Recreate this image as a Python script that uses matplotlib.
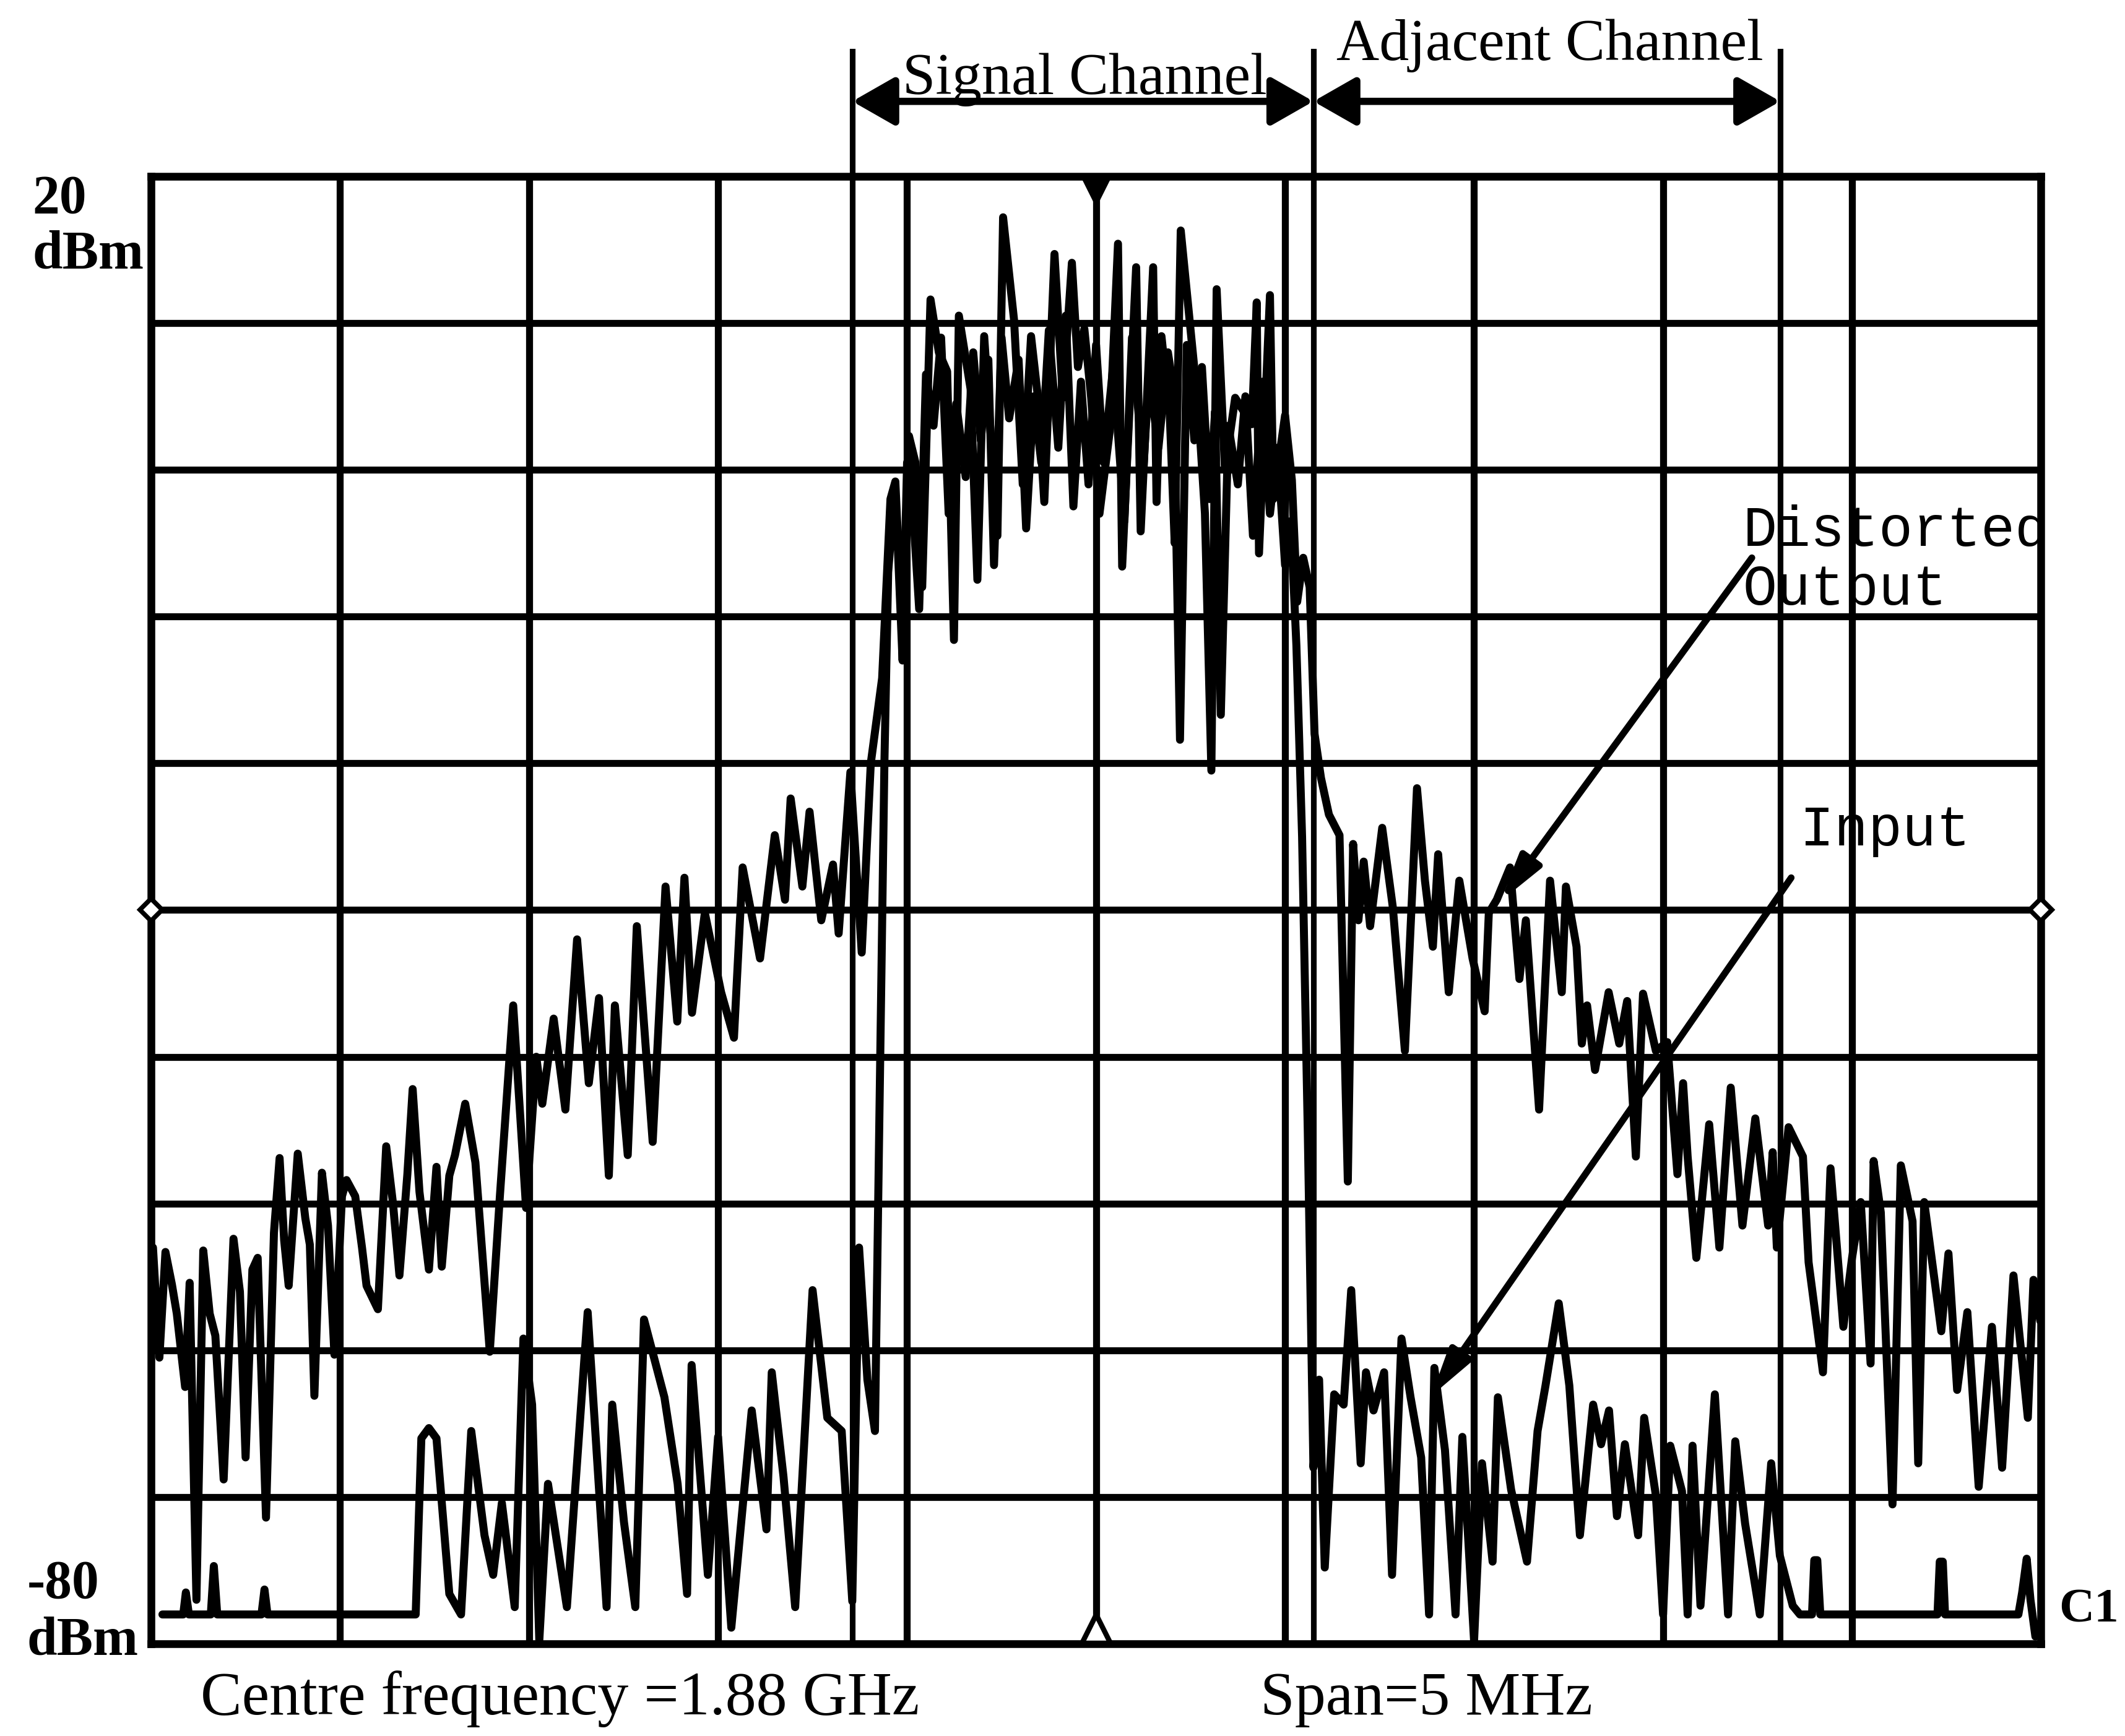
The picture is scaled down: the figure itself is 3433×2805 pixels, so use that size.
import numpy as np
import matplotlib
matplotlib.use("Agg")
import matplotlib.pyplot as plt

# ---------------- data (frequency offset from 1.88 GHz in MHz, level in dBm) -------------
out_freq = [-2.495, -2.478, -2.462, -2.445, -2.432, -2.410, -2.398, -2.380, -2.362, -2.345,
            -2.330, -2.308, -2.282, -2.265, -2.250, -2.232, -2.218, -2.196, -2.175, -2.160,
            -2.148, -2.136, -2.112, -2.092, -2.080, -2.068, -2.048, -2.032, -2.015, -1.995,
            -1.983, -1.960, -1.942, -1.930, -1.900, -1.878, -1.860, -1.843, -1.822, -1.808,
            -1.790, -1.765, -1.745, -1.731, -1.711, -1.696, -1.669, -1.642, -1.604, -1.577,
            -1.542, -1.508, -1.481, -1.465, -1.435, -1.404, -1.373, -1.342, -1.315, -1.289,
            -1.273, -1.239, -1.215, -1.173, -1.139, -1.108, -1.089, -1.069, -1.035, -0.992,
            -0.958, -0.935, -0.889, -0.850, -0.823, -0.808, -0.777, -0.758, -0.727, -0.696,
            -0.681, -0.650, -0.620, -0.596, -0.566, -0.544, -0.531, -0.513, -0.495, -0.478,
            -0.460, -0.438, -0.416, -0.394, -0.376, -0.363, -0.332, -0.314, -0.296, -0.261,
            -0.246, -0.217, -0.194, -0.172, -0.155, -0.137, -0.110, -0.088, -0.064, -0.048,
            -0.031, -0.013, 0.009, 0.036, 0.058, 0.069, 0.106, 0.118, 0.151, 0.160,
            0.173, 0.195, 0.208, 0.224, 0.270, 0.288, 0.305, 0.319, 0.341, 0.368,
            0.412, 0.425, 0.431, 0.460, 0.469, 0.500, 0.518, 0.532, 0.548, 0.565,
            0.578, 0.595, 0.616, 0.644, 0.666, 0.680, 0.694, 0.708, 0.725, 0.757,
            0.785, 0.817, 0.849, 0.870, 0.891, 0.905, 0.933, 0.961, 0.996, 1.028,
            1.039, 1.060, 1.095, 1.120, 1.137, 1.172, 1.201, 1.232, 1.243, 1.271,
            1.285, 1.299, 1.320, 1.356, 1.384, 1.405, 1.428, 1.447, 1.481, 1.511,
            1.538, 1.553, 1.565, 1.588, 1.622, 1.649, 1.679, 1.710, 1.744, 1.778,
            1.790, 1.801, 1.832, 1.870, 1.885, 1.923, 1.943, 1.977, 2.000, 2.023,
            2.049, 2.057, 2.076, 2.107, 2.129, 2.160, 2.175, 2.191, 2.236, 2.255,
            2.278, 2.305, 2.335, 2.370, 2.397, 2.427, 2.465, 2.480, 2.498]
out_dbm = [-53.0, -60.5, -53.3, -55.5, -57.5, -62.5, -55.4, -77.0, -53.2, -57.5,
           -59.0, -68.8, -52.4, -56.0, -67.3, -54.5, -53.7, -71.4, -52.0, -46.9,
           -52.5, -55.6, -46.6, -51.0, -52.8, -63.1, -47.9, -51.5, -60.3, -49.5,
           -48.4, -49.5, -53.0, -55.6, -57.2, -46.1, -50.0, -54.9, -48.0, -42.2,
           -49.2, -54.5, -47.5, -54.3, -48.1, -46.7, -43.2, -47.2, -60.1, -49.4,
           -36.5, -50.3, -40.0, -43.2, -37.4, -43.6, -32.0, -41.8, -36.0, -48.1,
           -36.5, -46.7, -31.1, -45.8, -28.4, -37.6, -27.8, -37.0, -30.2, -35.6,
           -38.7, -27.1, -33.3, -24.9, -29.3, -22.4, -28.4, -23.3, -30.7, -26.9,
           -31.6, -20.6, -32.9, -20.0, -14.2, -2.0, -0.8, -11.0, 2.3, 0.5,
           -8.0, 11.6, 8.0, 6.7, -11.6, 10.5, 5.5, -7.5, 9.1, -4.5,
           17.2, 10.2, -1.0, 9.1, 5.2, -2.2, 14.7, 4.9, 14.1, 7.0,
           9.6, 4.9, -3.0, 2.6, 15.4, -6.6, 13.8, -4.2, 13.8, -2.2,
           9.1, 3.7, -5.0, 16.3, 4.3, -3.0, -20.5, 12.3, 0.0, 4.9,
           3.1, 11.4, -5.7, 11.9, -2.0, 3.7, -0.7, -9.0, -6.0, -8.0,
           -18.0, -21.0, -23.5, -24.9, -48.5, -25.5, -30.7, -26.7, -31.1, -24.4,
           -29.8, -39.6, -21.7, -28.0, -32.5, -26.2, -35.6, -28.0, -33.3, -36.9,
           -30.2, -29.3, -27.1, -34.7, -30.7, -43.6, -28.0, -35.6, -28.4, -32.5,
           -39.1, -36.5, -40.9, -35.6, -39.1, -36.2, -46.8, -35.7, -39.6, -39.0,
           -48.0, -41.8, -46.8, -53.7, -44.6, -53.0, -42.1, -51.5, -44.2, -51.5,
           -46.5, -53.0, -44.8, -46.8, -54.0, -61.5, -47.6, -58.4, -53.7, -49.9,
           -60.9, -47.1, -50.6, -70.5, -47.4, -51.2, -67.7, -49.9, -58.7, -53.4,
           -62.7, -57.4, -69.3, -58.4, -68.0, -54.9, -64.6, -55.2, -58.0]

in_freq = [-2.470, -2.415, -2.408, -2.400, -2.342, -2.334, -2.325, -2.208, -2.200, -2.192,
           -1.800, -1.785, -1.765, -1.745, -1.711, -1.680, -1.653, -1.618, -1.595, -1.572,
           -1.538, -1.515, -1.492, -1.473, -1.450, -1.400, -1.345, -1.295, -1.280, -1.249,
           -1.219, -1.196, -1.142, -1.107, -1.082, -1.070, -1.027, -1.000, -0.965, -0.911,
           -0.872, -0.858, -0.827, -0.796, -0.750, -0.711, -0.673, -0.645, -0.627, -0.605,
           -0.585, -0.572, -0.560, -0.550, -0.538, -0.525, -0.512, -0.500, -0.485, -0.468,
           -0.450, -0.430, -0.410, -0.390, -0.370, -0.345, -0.325, -0.305, -0.285, -0.270,
           -0.250, -0.230, -0.205, -0.185, -0.165, -0.145, -0.125, -0.100, -0.080, -0.060,
           -0.040, -0.020, 0.000, 0.020, 0.045, 0.075, 0.095, 0.125, 0.140, 0.165,
           0.190, 0.205, 0.222, 0.240, 0.260, 0.280, 0.300, 0.315, 0.330, 0.350,
           0.375, 0.395, 0.415, 0.440, 0.460, 0.480, 0.500, 0.515, 0.530, 0.545,
           0.560, 0.575, 0.590, 0.605, 0.630, 0.655, 0.675, 0.700, 0.714, 0.734,
           0.762, 0.783, 0.808, 0.832, 0.860, 0.881, 0.895, 0.923, 0.951, 0.969,
           1.000, 1.021, 1.049, 1.063, 1.098, 1.140, 1.168, 1.189, 1.224, 1.252,
           1.280, 1.315, 1.336, 1.357, 1.378, 1.399, 1.434, 1.450, 1.481, 1.500,
           1.519, 1.550, 1.565, 1.578, 1.599, 1.637, 1.672, 1.691, 1.717, 1.756,
           1.786, 1.809, 1.843, 1.862, 1.894, 1.900, 1.908, 1.916, 2.226, 2.232,
           2.240, 2.246, 2.440, 2.450, 2.462, 2.472, 2.485, 2.500]
in_dbm = [-78.0, -78.0, -76.5, -78.0, -78.0, -74.7, -78.0, -78.0, -76.3, -78.0,
          -78.0, -66.0, -65.3, -66.0, -76.6, -78.0, -65.5, -72.6, -75.3, -70.4,
          -77.5, -59.2, -63.7, -79.8, -69.1, -77.5, -57.4, -77.5, -63.7, -71.7,
          -77.5, -57.9, -63.2, -69.1, -76.6, -61.0, -75.3, -65.9, -78.9, -64.1,
          -72.2, -61.5, -68.6, -77.5, -55.9, -64.6, -65.5, -77.1, -53.0, -62.0,
          -65.5, -42.0, -20.0, -7.0, -3.0, -5.0, -13.0, 0.5, -2.5, -9.5,
          6.5, 3.0, 9.0, -3.0, 4.5, -0.5, 8.0, 2.0, 7.5, -6.5,
          9.0, 3.5, 7.5, -4.0, 5.0, 0.5, 9.5, 1.5, 10.5, -2.5,
          6.0, -1.0, 8.5, 0.5, 7.0, -3.5, 9.0, 0.0, 6.5, 1.5,
          8.0, 5.5, -18.4, 8.5, 2.0, 7.0, -2.0, 4.0, -16.7, 3.0,
          -1.0, 5.0, -4.5, 6.0, -3.0, 1.5, -6.5, -3.5, -12.0, -25.0,
          -45.0, -68.0, -62.0, -74.8, -63.0, -63.7, -55.9, -67.7, -61.5, -64.1,
          -61.5, -75.3, -59.2, -63.2, -67.3, -78.0, -61.2, -66.8, -78.0, -65.9,
          -79.8, -67.7, -74.4, -63.2, -69.5, -74.4, -65.5, -62.4, -56.8, -62.4,
          -72.6, -63.7, -66.4, -64.1, -71.3, -66.4, -72.6, -64.6, -69.9, -78.0,
          -66.5, -69.6, -78.0, -66.5, -77.4, -63.0, -78.0, -66.2, -71.8, -78.0,
          -67.7, -74.0, -77.4, -78.0, -78.0, -74.3, -74.3, -78.0, -78.0, -74.4,
          -74.4, -78.0, -78.0, -76.5, -74.2, -77.0, -79.5, -78.5]

channel_edges = [-0.645, 0.575, 1.81]
x_grid = np.arange(-2.5, 2.51, 0.5)
y_grid = np.arange(-80, 21, 10)

# ---------------- figure ----------------
W, H = 3433, 2805
fig = plt.figure(figsize=(W / 300, H / 300), dpi=300)
ax = fig.add_axes([0.0711, 0.0531, 0.8894, 0.8454])
ax.set_xlim(-2.5, 2.5)
ax.set_ylim(-80, 20)
ax.set_xticks(x_grid)
ax.set_yticks(y_grid)
ax.tick_params(length=0, labelbottom=False, labelleft=False)
ax.grid(True, color='black', lw=2.7)
for s in ax.spines.values():
    s.set_linewidth(3.0)
    s.set_color('black')

lw_trace = 3.1
ax.plot(out_freq, out_dbm, color='black', lw=lw_trace, solid_joinstyle='round',
        solid_capstyle='round', zorder=3)
ax.plot(in_freq, in_dbm, color='black', lw=lw_trace, solid_joinstyle='round',
        solid_capstyle='round', zorder=3)

# channel boundary lines extending above the screen
for xe in channel_edges:
    ax.plot([xe, xe], [-80, 28.5], color='black', lw=2.2, clip_on=False, zorder=4)

# double arrows for channels
arrow_y = 25.1
astyle = '<|-|>,head_length=1.4,head_width=0.8'
ax.annotate('', xy=(channel_edges[0], arrow_y), xytext=(channel_edges[1], arrow_y),
            arrowprops=dict(arrowstyle=astyle, lw=2.8, color='black', shrinkA=0, shrinkB=0,
                            mutation_scale=10), annotation_clip=False)
ax.annotate('', xy=(channel_edges[1], arrow_y), xytext=(channel_edges[2], arrow_y),
            arrowprops=dict(arrowstyle=astyle, lw=2.8, color='black', shrinkA=0, shrinkB=0,
                            mutation_scale=10), annotation_clip=False)

serif = ['Liberation Serif', 'DejaVu Serif']
mono = ['Liberation Mono', 'DejaVu Sans Mono']
ax.text(-0.03, 25.6, 'Signal Channel', family=serif, fontsize=23, ha='center', va='baseline')
ax.text(1.2, 27.9, 'Adjacent Channel', family=serif, fontsize=23, ha='center', va='baseline')

# center markers
ax.plot([0], [19.0], marker='v', color='black', markersize=11, clip_on=False, zorder=5)
ax.plot([0], [-79.0], marker='^', markerfacecolor='white', markeredgecolor='black',
        markeredgewidth=2, markersize=11, clip_on=False, zorder=5)
ax.plot([-2.5, 2.5], [-30, -30], ls='none', marker='D', markerfacecolor='white',
        markeredgecolor='black', markeredgewidth=1.8, markersize=6, clip_on=False, zorder=5)

# annotation arrows
ax.annotate('', xy=(1.07, -29.4), xytext=(1.735, -6.0),
            arrowprops=dict(arrowstyle='-|>,head_length=1.5,head_width=0.4', lw=2.6,
                            color='black', shrinkA=0, shrinkB=0, mutation_scale=10))
ax.annotate('', xy=(0.887, -63.1), xytext=(1.839, -27.8),
            arrowprops=dict(arrowstyle='-|>,head_length=1.5,head_width=0.4', lw=2.6,
                            color='black', shrinkA=0, shrinkB=0, mutation_scale=10))

fig.text(0.8202, 0.6854, 'Distorted', family=mono, fontsize=22, ha='left', va='baseline')
fig.text(0.8202, 0.6518, 'Output', family=mono, fontsize=22, ha='left', va='baseline')
fig.text(0.847, 0.5129, 'Input', family=mono, fontsize=22, ha='left', va='baseline')

# axis range labels
fig.text(0.0153, 0.8774, '20', family=serif, fontsize=21, fontweight='bold', ha='left', va='baseline')
fig.text(0.0153, 0.8454, 'dBm', family=serif, fontsize=21, fontweight='bold', ha='left', va='baseline')
fig.text(0.0128, 0.0796, '-80', family=serif, fontsize=21, fontweight='bold', ha='left', va='baseline')
fig.text(0.0128, 0.0468, 'dBm', family=serif, fontsize=21, fontweight='bold', ha='left', va='baseline')
fig.text(0.9690, 0.0656, 'C1', family=serif, fontsize=19, fontweight='bold', ha='left', va='baseline')

fig.text(0.0944, 0.0125, 'Centre frequency =1.88 GHz', family=serif, fontsize=24, ha='left', va='baseline')
fig.text(0.593, 0.0125, 'Span=5 MHz', family=serif, fontsize=24, ha='left', va='baseline')

fig.savefig('out.png', dpi=300, facecolor='white')
